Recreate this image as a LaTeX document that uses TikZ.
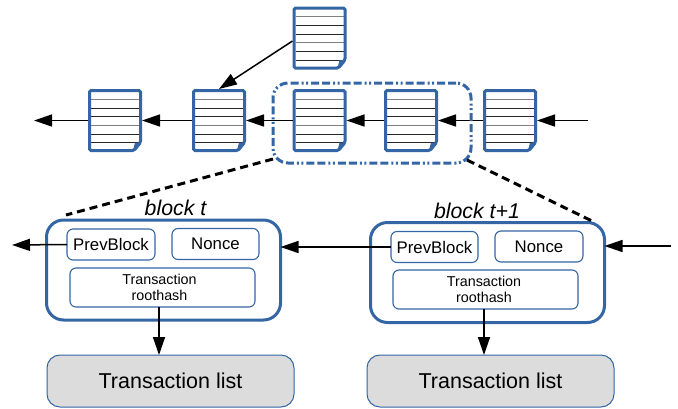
\documentclass[tikz,border=0pt]{standalone}
\usepackage{fontspec}
\setmainfont{Liberation Sans}
\usetikzlibrary{arrows.meta}
\definecolor{docblue}{HTML}{3465A4}
\definecolor{listgray}{HTML}{DCDCDC}
\tikzset{
  anchorbox/.style={inner sep=0pt,outer sep=0pt,minimum width=54pt,minimum height=63pt},
  docline/.style={line width=1pt,black!85},
  docgray/.style={line width=1pt,black!50},
  arr/.style={line width=1.5pt,-{Triangle[length=18pt,width=12pt]}},
  blockbox/.style={draw=docblue,line width=3pt,rounded corners=17pt,inner sep=0pt,outer sep=0pt,minimum width=234pt,minimum height=100pt},
  fieldbox/.style={draw=docblue,line width=1.1pt,rounded corners=6pt,fill=white,inner sep=0pt,outer sep=0pt,font=\fontsize{16.8pt}{19pt}\selectfont},
  hashbox/.style={fieldbox,align=center,minimum width=185pt,minimum height=39pt,font=\fontsize{14.3pt}{16.5pt}\selectfont},
  listbox/.style={draw=docblue,line width=1pt,rounded corners=13pt,fill=listgray,inner sep=0pt,outer sep=0pt,minimum width=247pt,minimum height=52pt,font=\fontsize{21.5pt}{24pt}\selectfont},
  blocklabel/.style={inner sep=0pt,font=\fontsize{21.3pt}{24pt}\selectfont\itshape},
  groupdash/.style={draw=docblue,line width=3pt,rounded corners=15pt,dash pattern=on 8pt off 3pt on 8pt off 3pt on 2pt off 2.5pt on 2pt off 3pt},
  zoomdash/.style={line width=3pt,dash pattern=on 8pt off 5pt},
}
\newcommand{\docnode}[3]{%
  \node[anchorbox] (#1) at (#2,#3) {};
  \begin{scope}[shift={(#1.north west)}]
    \fill[white] (1.5,1.5) rectangle (52.5,61.5);
    \draw[docgray] (3,10) -- (51,10);
    \draw[docline] (3,19) -- (51,19);
    \draw[docline] (3,27.5) -- (51,27.5);
    \draw[docgray] (3,36) -- (51,36);
    \draw[docline] (3,45) -- (51,45);
    \draw[docline] (3,53.5) -- (51,53.5);
    \fill[docblue] (47,53.5) -- (52.5,53.5) -- (46,61.5) -- (45,61.5) -- cycle;
    \draw[docblue,line width=3pt,rounded corners=1.5pt] (1.5,1.5) -- (52.5,1.5) -- (52.5,53.5) -- (46,61.5) -- (1.5,61.5) -- cycle;
  \end{scope}}
\begin{document}
\begin{tikzpicture}[x=1pt,y=-1pt]
\useasboundingbox (0,0) rectangle (678,408);
% chain
\docnode{top}{319.5}{38}
\docnode{da}{115}{120.5}
\docnode{db}{219}{120.5}
\docnode{dc}{319.5}{120.5}
\docnode{dd}{411}{120.5}
\docnode{de}{510}{120.5}
\coordinate (chainout) at (34,120.5);
\coordinate (chainin) at (588,120.5);
\draw[arr] (da.west) -- (chainout);
\draw[arr] (db.west) -- (da.east);
\draw[arr] (dc.west) -- (db.east);
\draw[arr] (dd.west) -- (dc.east);
\draw[arr] (de.west) -- (dd.east);
\draw[arr] (chainin) -- (de.east);
\draw[arr] ([yshift=-3pt]top.west) -- (db.north);
% group outline
\node[groupdash,inner sep=0pt,outer sep=0pt,minimum width=198pt,minimum height=80pt] (group) at (372,123) {};
% blocks
\node[blockbox] (b1) at (163.5,270) {};
\node[blockbox] (b2) at (487.5,272.5) {};
\coordinate (z1) at (273,159);
\coordinate (z2) at (66,215);
\coordinate (z3) at (467,160);
\coordinate (z4) at (592,221);
\draw[zoomdash] (z1) -- (z2);
\draw[zoomdash] (z3) -- (z4);
\node[blocklabel] (l1) at (175.5,208) {block t};
\node[blocklabel] (l2) at (477,211) {block t+1};
\node[fieldbox,minimum width=88pt,minimum height=31pt] (p1) at (111,244.5) {PrevBlock};
\node[fieldbox,minimum width=87pt,minimum height=31pt] (n1) at (215.5,244) {Nonce};
\node[hashbox] (h1) at (162.5,287.5) {\hspace*{-6pt}Transaction\\\hspace*{-6pt}roothash};
\node[fieldbox,minimum width=87pt,minimum height=31pt] (p2) at (434.5,247) {PrevBlock};
\node[fieldbox,minimum width=88pt,minimum height=31pt] (n2) at (539,246.5) {Nonce};
\node[hashbox] (h2) at (485.5,289.5) {\hspace*{-3pt}Transaction\\\hspace*{-3pt}roothash};
\node[listbox] (t1) at (170.5,381) {Transaction list};
\node[listbox] (t2) at (490.5,381) {Transaction list};
\coordinate (out1) at (12,245);
\coordinate (in2) at (671,246);
\draw[arr] (p1.west) -- (out1);
\draw[arr] (p2.west) -- (p2.west -| b1.east);
\draw[arr] (in2) -- (in2 -| b2.east);
\draw[arr] (h1.south -| 159,0) -- (t1.north -| 159,0);
\draw[arr] (h2.south -| 484,0) -- (t2.north -| 484,0);
\end{tikzpicture}
\end{document}
